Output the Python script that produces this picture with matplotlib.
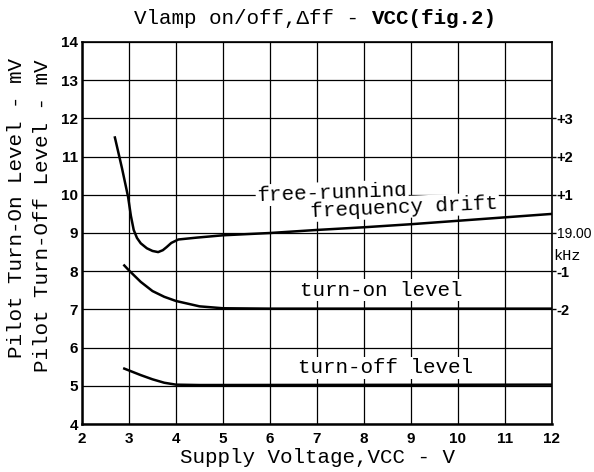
import matplotlib.pyplot as plt

# Data (fig.2)
drift_v = [2.7, 2.85, 2.98, 3.04, 3.1, 3.17, 3.25, 3.38, 3.5, 3.62, 3.72, 3.8,
           3.9, 4.05, 4.45, 5.0, 6.0, 7.0, 8.0, 9.0, 10.0, 11.0, 12.0]
drift_y = [11.5, 10.7, 9.95, 9.45, 9.08, 8.87, 8.73, 8.6, 8.53, 8.5, 8.55, 8.63,
           8.74, 8.83, 8.88, 8.94, 9.0, 9.08, 9.15, 9.23, 9.32, 9.41, 9.5]

turn_on_v = [2.9, 3.0, 3.25, 3.5, 3.75, 4.0, 4.5, 5.0, 6.0, 12.0]
turn_on_mv = [8.15, 8.02, 7.72, 7.48, 7.33, 7.22, 7.08, 7.03, 7.02, 7.02]

turn_off_v = [2.9, 3.25, 3.5, 3.75, 4.0, 4.5, 12.0]
turn_off_mv = [5.45, 5.28, 5.17, 5.08, 5.03, 5.02, 5.03]

x_ticks = list(range(2, 13))
y_ticks = list(range(4, 15))
khz_ticks = [12, 11, 10, 9, 8, 7]
khz_labels = ['+3', '+2', '+1', '19.00', '-1', '-2']

mono = 'Liberation Mono'
sans = 'Liberation Sans'

fig = plt.figure(figsize=(5.94, 4.72), dpi=100)
ax = fig.add_axes([82 / 594, 48 / 472, 470 / 594, 382 / 472])

ax.set_xlim(2, 12)
ax.set_ylim(4, 14)
ax.set_xticks(x_ticks)
ax.set_yticks(y_ticks)
ax.grid(True, color='black', linewidth=0.9)
ax.tick_params(axis='x', length=0, pad=6)
ax.tick_params(axis='y', length=0, pad=3)
for lab in ax.get_xticklabels() + ax.get_yticklabels():
    lab.set_fontfamily(sans)
    lab.set_fontweight('bold')
    lab.set_fontsize(11)
for s in ['left', 'bottom']:
    ax.spines[s].set_linewidth(1.8)
for s in ['top', 'right']:
    ax.spines[s].set_linewidth(1.2)

# curves
ax.plot(drift_v, drift_y, color='black', linewidth=1.8)
ax.plot(turn_on_v, turn_on_mv, color='black', linewidth=1.8)
ax.plot(turn_off_v, turn_off_mv, color='black', linewidth=1.8)

# curve labels
box = dict(facecolor='white', edgecolor='none', pad=1)
ax.text(5.72, 10.05, 'free-running', family=mono, fontsize=15, rotation=2,
        va='center', ha='left', bbox=box)
ax.text(6.85, 9.68, 'frequency drift', family=mono, fontsize=15, rotation=2.5,
        va='center', ha='left', bbox=box)
ax.text(6.64, 7.5, 'turn-on level', family=mono, fontsize=15,
        va='center', ha='left', bbox=box)
ax.text(6.6, 5.47, 'turn-off level', family=mono, fontsize=15,
        va='center', ha='left', bbox=box)

# right hand frequency scale
ax2 = ax.twinx()
ax2.set_ylim(4, 14)
ax2.set_yticks(khz_ticks)
ax2.set_yticklabels(khz_labels, fontfamily=sans, fontweight='bold', fontsize=10.5)
ax2.get_yticklabels()[3].set_fontsize(10)
ax2.get_yticklabels()[3].set_fontweight('normal')
ax2.tick_params(length=3, width=1, pad=0.5)
for s in ax2.spines.values():
    s.set_visible(False)
ax2.text(1.003, 0.44, 'kHz', transform=ax2.transAxes, family=mono,
         fontsize=11, va='center', ha='left')

# axis labels
ax.set_xlabel('Supply Voltage,VCC - V', family=mono, fontsize=15, labelpad=1)
fig.text(17 / 594, 1 - 208 / 472, 'Pilot Turn-On Level - mV', family=mono,
         fontsize=15, rotation=90, ha='center', va='center')
fig.text(43 / 594, 1 - 216 / 472, 'Pilot Turn-Off Level - mV', family=mono,
         fontsize=15, rotation=90, ha='center', va='center')

# title
fig.text(372 / 594, 1 - 18 / 472, 'Vlamp on/off,Δff - ', family=mono,
         fontsize=15, ha='right', va='center')
fig.text(372 / 594, 1 - 18 / 472, 'VCC(fig.2)', family=mono, fontsize=15,
         fontweight='bold', ha='left', va='center')

fig.savefig('out.png', dpi=100, facecolor='white')
